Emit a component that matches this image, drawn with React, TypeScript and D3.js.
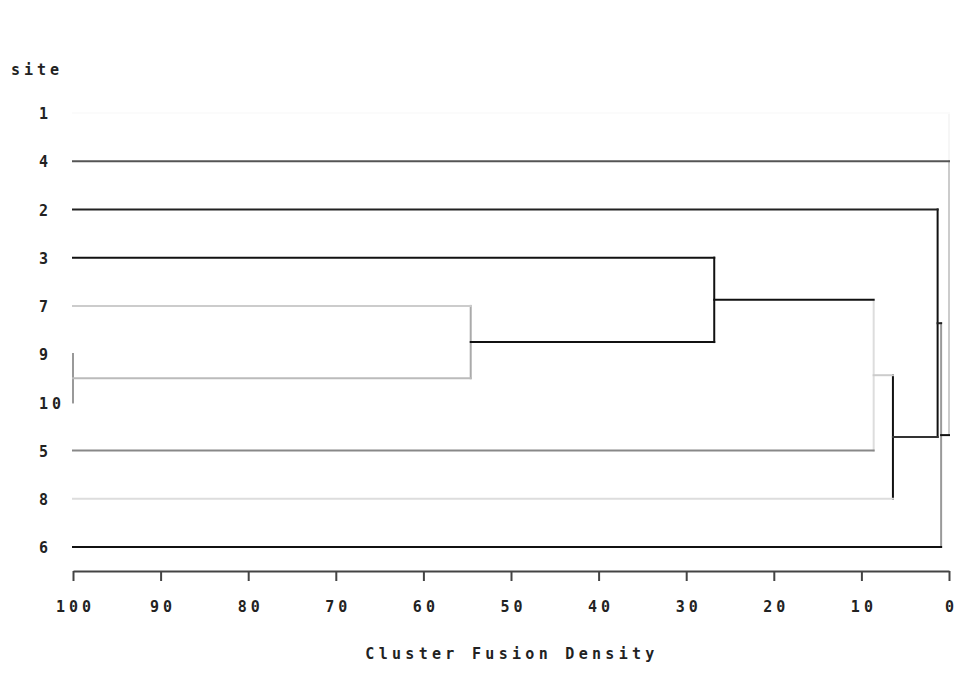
import React, { useRef, useEffect } from 'react';
import * as d3 from 'd3';

// data
const sites = ['1', '4', '2', '3', '7', '9', '10', '5', '8', '6'];
const clusterNames = ['C1', 'C2', 'C3', 'C4', 'C5', 'C6', 'C7', 'C8', 'C9'];
const leftChild = ['9', '7', '3', 'C3', 'C4', '2', 'C6', '4', '1'];
const rightChild = ['10', 'C1', 'C2', '5', '8', 'C5', '6', 'C7', 'C8'];
const fusionDensity = [100, 54.6, 26.8, 8.6, 6.4, 1.3, 0.9, 0, 0];
const densityTicks = [100, 90, 80, 70, 60, 50, 40, 30, 20, 10, 0];

// line shades (horizontal stem of each node, vertical bar of each cluster)
const stemShade: Record<string, string> = {
  '1': '#fbfbfb', '4': '#555', '2': '#222', '3': '#111', '7': '#ccc',
  '9': '#999', '10': '#999', '5': '#888', '8': '#ddd', '6': '#111',
  C1: '#bbb', C2: '#111', C3: '#111', C4: '#ccc', C5: '#333',
  C6: '#222', C7: '#111', C8: '#ccc', C9: '#fbfbfb'
};
const barShade: Record<string, string> = {
  C1: '#999', C2: '#aaa', C3: '#111', C4: '#ddd', C5: '#111',
  C6: '#111', C7: '#999', C8: '#ccc', C9: '#f6f6f6'
};

const FONT = '"DejaVu Sans Mono", monospace';

export default function App() {
  const ref = useRef<SVGSVGElement>(null);

  useEffect(() => {
    const svg = d3.select(ref.current);
    svg.selectAll('*').remove();

    // scales
    const x = d3.scaleLinear().domain([100, 0]).range([73, 949]);
    const y = d3.scalePoint<string>().domain(sites).range([113, 547]);

    // node positions
    const height: Record<string, number> = {};
    const ypos: Record<string, number> = {};
    const parent: Record<string, string> = {};
    sites.forEach(s => { height[s] = 100; ypos[s] = y(s) as number; });
    clusterNames.forEach((c, i) => {
      const a = leftChild[i], b = rightChild[i];
      height[c] = fusionDensity[i];
      ypos[c] = (ypos[a] + ypos[b]) / 2;
      parent[a] = c;
      parent[b] = c;
    });

    const g = svg.append('g');

    // draw from root down so darker lines end on top
    const order = clusterNames.slice().reverse();
    order.forEach(c => {
      const i = clusterNames.indexOf(c);
      const a = leftChild[i], b = rightChild[i];
      g.append('line')
        .attr('x1', x(height[c])).attr('x2', x(height[c]))
        .attr('y1', ypos[a]).attr('y2', ypos[b])
        .attr('stroke', barShade[c]).attr('stroke-width', 2)
        .attr('stroke-linecap', 'square');
      [c, a, b].forEach(n => {
        if (!parent[n]) return;
        const p = parent[n];
        if (n !== c && clusterNames.includes(n)) return;
        g.append('line')
          .attr('x1', x(height[n])).attr('x2', x(height[p]))
          .attr('y1', ypos[n]).attr('y2', ypos[n])
          .attr('stroke', stemShade[n]).attr('stroke-width', 2)
          .attr('stroke-linecap', 'square');
      });
    });

    // axis
    const axis = d3.axisBottom(x).tickValues(densityTicks).tickSize(10).tickSizeOuter(0);
    const ax = svg.append('g')
      .attr('transform', 'translate(0,571)')
      .call(axis);
    ax.select('.domain').attr('stroke', '#444').attr('stroke-width', 2);
    ax.selectAll('.tick line').attr('stroke', '#444').attr('stroke-width', 2);
    ax.selectAll('.tick text')
      .attr('y', 36).attr('dy', '0.35em').attr('dx', 2)
      .attr('fill', '#222')
      .style('font-family', FONT).style('font-size', '15px')
      .style('font-weight', 'bold').style('letter-spacing', '4px');

    svg.append('text')
      .attr('x', 512).attr('y', 654).attr('dy', '0.35em')
      .attr('text-anchor', 'middle').attr('fill', '#222')
      .style('font-family', FONT).style('font-size', '15px')
      .style('font-weight', 'bold').style('letter-spacing', '4.3px')
      .text('Cluster Fusion Density');

    // site labels
    svg.append('text')
      .attr('x', 11).attr('y', 70).attr('dy', '0.35em')
      .attr('fill', '#222')
      .style('font-family', FONT).style('font-size', '15px')
      .style('font-weight', 'bold').style('letter-spacing', '4px')
      .text('site');

    svg.selectAll('text.site')
      .data(sites)
      .enter().append('text')
      .attr('class', 'site')
      .attr('x', 39).attr('y', d => (y(d) as number) + 1).attr('dy', '0.35em')
      .attr('fill', '#222')
      .style('font-family', FONT).style('font-size', '15px')
      .style('font-weight', 'bold').style('letter-spacing', '4px')
      .text(d => d);
  }, []);

  return (
    <svg ref={ref} width={966} height={687}
      style={{ position: 'absolute', left: 0, top: 0, background: '#fff' }} />
  );
}
